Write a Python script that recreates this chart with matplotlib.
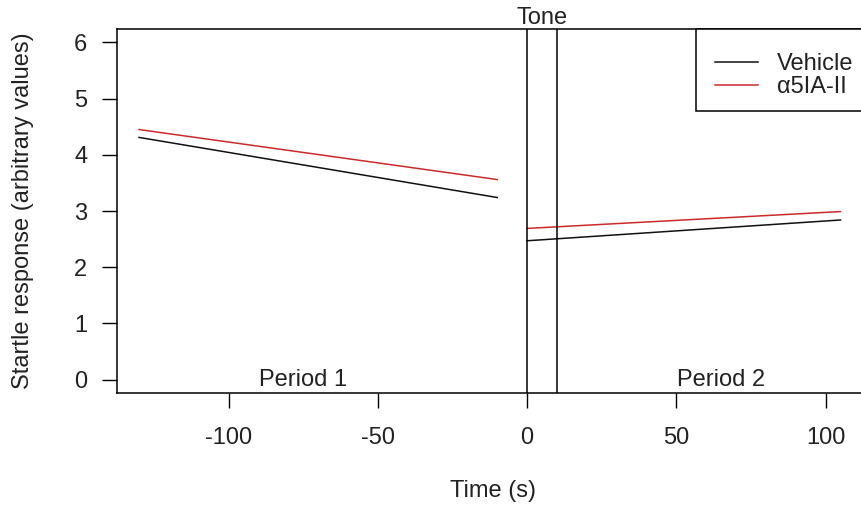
import matplotlib
matplotlib.use("Agg")
import matplotlib.pyplot as plt
from matplotlib.patches import Rectangle

plt.rcParams['font.family'] = ['Liberation Sans', 'DejaVu Sans']
plt.rcParams['axes.unicode_minus'] = False

# Data
series_names = ["Vehicle", "α5IA-II"]
series_colors = ["#111111", "#cc2a2a"]
period1_time = [-130, -10]
period2_time = [0, 105]
vehicle_p1 = [4.31, 3.24]
alpha_p1 = [4.45, 3.56]
vehicle_p2 = [2.47, 2.84]
alpha_p2 = [2.69, 2.99]
tone_lines = [0, 10]
xticks = [-100, -50, 0, 50, 100]
yticks = [0, 1, 2, 3, 4, 5, 6]

W, H = 862, 508
fig = plt.figure(figsize=(W / 100, H / 100), dpi=100)
left, right, top, bottom = 117, 868, 29, 393
ax = fig.add_axes([left / W, (H - bottom) / H, (right - left) / W, (bottom - top) / H])

tc = "#222222"
fs = 17

l1, = ax.plot(period1_time, vehicle_p1, color=series_colors[0], lw=1.1)
l2, = ax.plot(period1_time, alpha_p1, color=series_colors[1], lw=1.1)
ax.plot(period2_time, vehicle_p2, color=series_colors[0], lw=1.1)
ax.plot(period2_time, alpha_p2, color=series_colors[1], lw=1.1)

for xv in tone_lines:
    ax.axvline(xv, color="black", lw=1.1)

ax.set_xlim(-137.4, 114.2)
ax.set_ylim(-0.24, 6.24)
ax.set_xticks(xticks)
ax.set_yticks(yticks)
ax.tick_params(axis='both', direction='out', length=10.5, width=1, colors='black',
               labelcolor=tc, labelsize=fs)
ax.tick_params(axis='x', pad=14)
ax.tick_params(axis='y', pad=11)
for s in ax.spines.values():
    s.set_linewidth(1.1)

ax.set_xlabel("Time (s)", fontsize=fs, color=tc)
ax.set_ylabel("Startle response (arbitrary values)", fontsize=fs, color=tc)
ax.xaxis.set_label_coords(0.5, -0.239)
ax.yaxis.set_label_coords(-0.111, 0.5)

ax.text(5, 6.24, "Tone", ha='center', va='bottom', fontsize=fs, color=tc)
ax.text(-75, 0, "Period 1", ha='center', va='center', fontsize=fs, color=tc)
ax.text(65, 0, "Period 2", ha='center', va='center', fontsize=fs, color=tc)

# legend frame (box) drawn separately, contents placed by legend
box = Rectangle((696 / W, (H - 111) / H), (875 - 696) / W, (111 - 29) / H,
                transform=fig.transFigure, facecolor='white', edgecolor='black',
                lw=1.1, zorder=4, clip_on=False)
ax.add_patch(box)
leg = ax.legend([l1, l2], series_names, loc='upper left',
                bbox_to_anchor=(715 / W, 1 - 53 / H), bbox_transform=fig.transFigure,
                borderaxespad=0, frameon=False,
                fontsize=fs, handlelength=1.82, handletextpad=0.8, labelspacing=0.05,
                borderpad=0)
leg.set_zorder(5)
for t in leg.get_texts():
    t.set_color(tc)

fig.savefig("out.png", dpi=100)
